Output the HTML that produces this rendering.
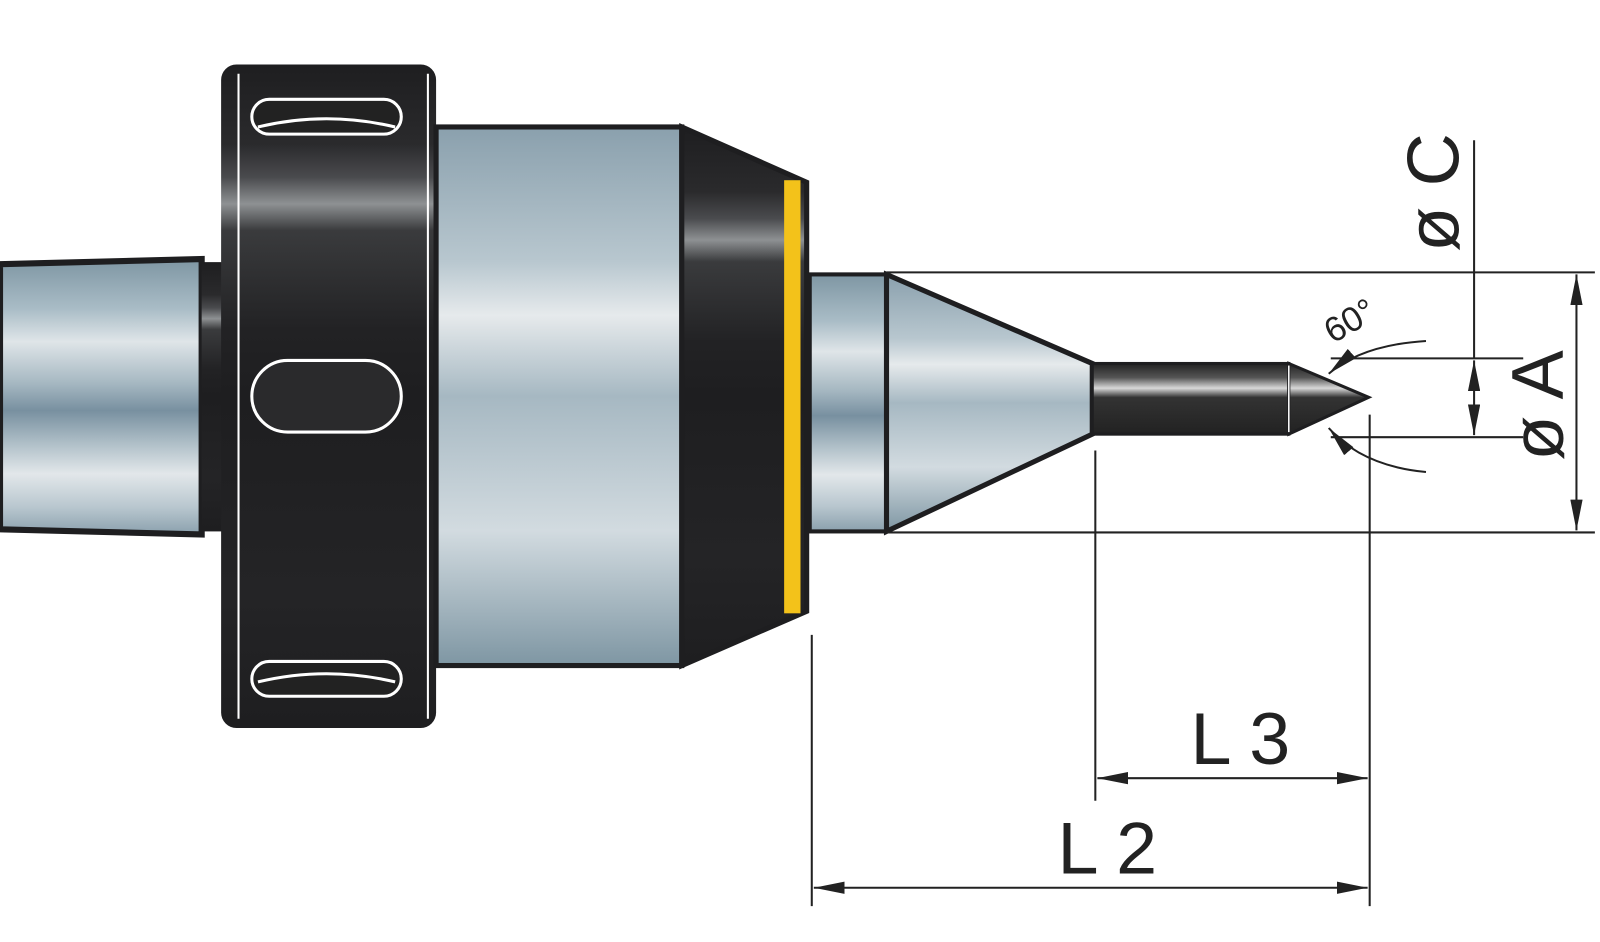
<!DOCTYPE html>
<html><head><meta charset="utf-8"><style>html,body{margin:0;padding:0;background:#fff}svg{display:block}</style></head><body>
<svg width="1600" height="942" viewBox="0 0 1563 920" preserveAspectRatio="none" xmlns="http://www.w3.org/2000/svg">
<defs>
<linearGradient id="met" x1="0" y1="0" x2="0" y2="1">
<stop offset="0" stop-color="#7e96a3"/><stop offset="0.18" stop-color="#a9bcc6"/><stop offset="0.3" stop-color="#dfe5e8"/><stop offset="0.45" stop-color="#a6b8c2"/><stop offset="0.55" stop-color="#7890a0"/><stop offset="0.68" stop-color="#b4c3cb"/><stop offset="0.78" stop-color="#e2e7ea"/><stop offset="0.9" stop-color="#b9c7cf"/><stop offset="1" stop-color="#8aa0ad"/>
</linearGradient>
<linearGradient id="met2" x1="0" y1="0" x2="0" y2="1">
<stop offset="0" stop-color="#8aa0ad"/><stop offset="0.25" stop-color="#b8c7cf"/><stop offset="0.35" stop-color="#e6eaec"/><stop offset="0.5" stop-color="#a6b8c2"/><stop offset="0.75" stop-color="#d2dbe0"/><stop offset="1" stop-color="#7e96a3"/>
</linearGradient>
<linearGradient id="blk" x1="0" y1="0" x2="0" y2="1">
<stop offset="0" stop-color="#1e1e20"/><stop offset="0.12" stop-color="#2a2a2c"/><stop offset="0.17" stop-color="#4a4b4e"/><stop offset="0.21" stop-color="#8e9193"/><stop offset="0.25" stop-color="#3a3b3d"/><stop offset="0.4" stop-color="#222224"/><stop offset="0.5" stop-color="#1e1e20"/><stop offset="0.8" stop-color="#242426"/><stop offset="1" stop-color="#1e1e20"/>
</linearGradient>
<linearGradient id="pin" x1="0" y1="0" x2="0" y2="1">
<stop offset="0" stop-color="#222"/><stop offset="0.2" stop-color="#555"/><stop offset="0.35" stop-color="#d8d8d8"/><stop offset="0.48" stop-color="#333"/><stop offset="1" stop-color="#222"/>
</linearGradient>
<marker id="ab" viewBox="0 0 30 12" refX="30" refY="6" markerWidth="30" markerHeight="12" markerUnits="userSpaceOnUse" orient="auto-start-reverse"><path d="M0,0 L30,6 L0,12 z" fill="#222"/></marker>
</defs>

<path d="M0,258 L197,253 L197,522 L0,517 Z" fill="url(#met)" stroke="#1e1e20" stroke-width="6"/>
<rect x="197" y="256" width="22" height="263" fill="url(#blk)"/>
<rect x="216" y="63" width="210" height="648" rx="15" fill="url(#blk)"/>
<line x1="233" y1="72" x2="233" y2="702" stroke="#fff" stroke-width="2"/>
<line x1="418" y1="72" x2="418" y2="702" stroke="#fff" stroke-width="2"/>
<rect x="246" y="97" width="146" height="34" rx="17" fill="#222" stroke="#fff" stroke-width="3"/>
<path d="M252,124 Q319,108 386,124" fill="none" stroke="#fff" stroke-width="3"/>
<rect x="246" y="352" width="146" height="70" rx="35" fill="#2a2a2c" stroke="#fff" stroke-width="3"/>
<rect x="246" y="646" width="146" height="34" rx="17" fill="#222" stroke="#fff" stroke-width="3"/>
<path d="M252,666 Q319,650 386,666" fill="none" stroke="#fff" stroke-width="3"/>
<rect x="426" y="124" width="240" height="526" fill="url(#met2)" stroke="#1e1e20" stroke-width="5"/>
<path d="M666,124 L788,178 L788,597 L666,650 Z" fill="url(#blk)" stroke="#1e1e20" stroke-width="5"/>
<rect x="766" y="176" width="16" height="423" fill="#f3c21a"/>
<rect x="791" y="268" width="75" height="251" fill="url(#met)" stroke="#1e1e20" stroke-width="4"/>
<path d="M866,268 L1067,355 L1067,424 L866,519 Z" fill="url(#met2)" stroke="#1e1e20" stroke-width="5"/>
<rect x="1067" y="355" width="192" height="69" fill="url(#pin)" stroke="#1e1e20" stroke-width="3"/>
<path d="M1259,355 L1337,388 L1259,424 Z" fill="url(#pin)" stroke="#1e1e20" stroke-width="3"/>
<line x1="1259" y1="357" x2="1259" y2="422" stroke="#fff" stroke-width="1.5"/>

<g stroke="#222" stroke-width="2" fill="none">
<line x1="866" y1="266" x2="1558" y2="266"/>
<line x1="866" y1="520" x2="1558" y2="520"/>
<line x1="1300" y1="350" x2="1488" y2="350"/>
<line x1="1300" y1="427" x2="1488" y2="427"/>
<line x1="1440" y1="137" x2="1440" y2="350"/>
<line x1="1440" y1="352" x2="1440" y2="425" marker-start="url(#ab)" marker-end="url(#ab)"/>
<line x1="1540" y1="268" x2="1540" y2="518" marker-start="url(#ab)" marker-end="url(#ab)"/>
<line x1="1070" y1="440" x2="1070" y2="782"/>
<line x1="1338" y1="405" x2="1338" y2="885"/>
<line x1="793" y1="620" x2="793" y2="885"/>
<line x1="1072" y1="760" x2="1336" y2="760" marker-start="url(#ab)" marker-end="url(#ab)"/>
<line x1="795" y1="867" x2="1336" y2="867" marker-start="url(#ab)" marker-end="url(#ab)"/>
<path d="M1393,333 Q1330,337 1298,365" marker-end="url(#ab)"/>
<path d="M1393,461 Q1330,455 1298,418" marker-end="url(#ab)"/>
</g>

<g font-family="Liberation Sans, sans-serif" fill="#222">
<text x="1163" y="746" font-size="72">L 3</text>
<text x="1033" y="853" font-size="72">L 2</text>
<text transform="translate(1425,246) rotate(-90)" font-size="72">ø C</text>
<text transform="translate(1527,450) rotate(-90)" font-size="72">ø A</text>
<text transform="translate(1302,336) rotate(-30)" font-size="34">60°</text>
</g>
</svg>
</body></html>
